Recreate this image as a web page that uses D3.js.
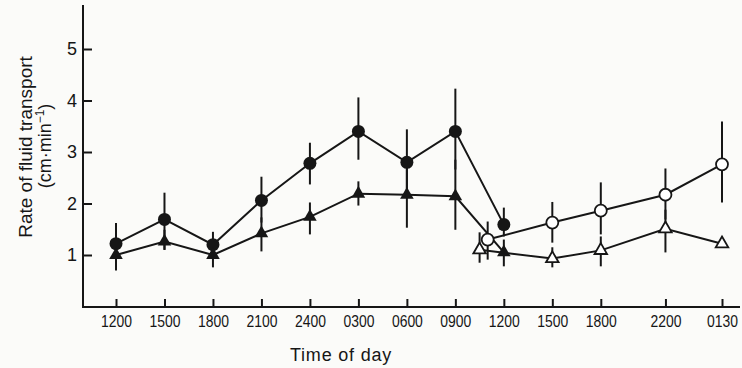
<!DOCTYPE html>
<html>
<head>
<meta charset="utf-8">
<script src="https://cdn.jsdelivr.net/npm/d3@7"></script>
<style>
  html, body { margin: 0; padding: 0; background: #fbfbf9; }
  svg { display: block; font-family: "Liberation Sans", Arial, sans-serif; }
</style>
</head>
<body>
<svg id="chart" width="742" height="368"></svg>
<script>
// elapsed hours from the first 1200 reading, and their clock labels
var tickHours = [0, 3, 6, 9, 12, 15, 18, 21, 24, 27, 30, 34, 37.5];
var tickLabels = ["1200", "1500", "1800", "2100", "2400", "0300", "0600", "0900", "1200", "1500", "1800", "2200", "0130"];
var yTicks = [1, 2, 3, 4, 5];

// filled circles
var timeA = [0, 3, 6, 9, 12, 15, 18, 21, 24];
var meanA = [1.22, 1.69, 1.2, 2.06, 2.78, 3.40, 2.80, 3.40, 1.59];
var hiA   = [1.62, 2.21, 1.45, 2.52, 3.18, 4.06, 3.44, 4.23, 1.92];
var loA   = [0.80, 1.10, 1.00, 1.63, 2.37, 2.85, 2.12, 2.66, 1.36];

// filled triangles
var timeB = [0, 3, 6, 9, 12, 15, 18, 21, 24];
var meanB = [1.0, 1.26, 1.0, 1.42, 1.74, 2.19, 2.17, 2.14, 1.05];
var hiB   = [1.25, 1.49, 1.2, 1.73, 2.02, 2.43, 2.82, 2.85, 1.30];
var loB   = [0.70, 1.10, 0.76, 1.07, 1.40, 1.96, 1.53, 1.49, 0.78];

// open circles
var timeC = [23, 27, 30, 34, 37.5];
var meanC = [1.30, 1.63, 1.86, 2.17, 2.76];
var hiC   = [1.65, 2.03, 2.41, 2.68, 3.59];
var loC   = [0.91, 1.24, 1.40, 1.69, 2.02];

// open triangles
var timeD = [22.5, 27, 30, 34, 37.5];
var meanD = [1.10, 0.93, 1.09, 1.51, 1.22];
var hiD   = [1.44, 1.15, 1.36, 1.88, null];
var loD   = [0.85, 0.76, 0.78, 1.05, null];

var ink = "#161616";
var svg = d3.select("#chart");

var x = d3.scaleLinear().domain([0, 37.5]).range([116, 722]);
var y = d3.scaleLinear().domain([0, 5]).range([306.5, 49]);

function pts(t, m, hi, lo) {
  return t.map(function(d, i) { return {t: d, v: m[i], hi: hi[i], lo: lo[i]}; });
}
var A = pts(timeA, meanA, hiA, loA);
var B = pts(timeB, meanB, hiB, loB);
var C = pts(timeC, meanC, hiC, loC);
var D = pts(timeD, meanD, hiD, loD);

// axes frame
svg.append("line").attr("x1", 83).attr("x2", 83).attr("y1", 5).attr("y2", 307.5)
  .attr("stroke", ink).attr("stroke-width", 2);
svg.append("line").attr("x1", 82).attr("x2", 740).attr("y1", 307).attr("y2", 307)
  .attr("stroke", ink).attr("stroke-width", 2);

var yAxis = svg.append("g").attr("transform", "translate(83,0)")
  .call(d3.axisLeft(y).tickValues(yTicks).tickSize(-9).tickPadding(6).tickFormat(d3.format("d")));
yAxis.select(".domain").remove();
yAxis.selectAll("line").attr("stroke", ink).attr("stroke-width", 2);
yAxis.selectAll("text").attr("font-size", 18).attr("fill", ink)
  .attr("font-family", "Liberation Sans, Arial, sans-serif");

var xAxis = svg.append("g").attr("transform", "translate(0,307)")
  .call(d3.axisBottom(x).tickValues(tickHours).tickSize(-8).tickPadding(8)
    .tickFormat(function(d, i) { return tickLabels[i]; }));
xAxis.select(".domain").remove();
xAxis.selectAll("line").attr("stroke", ink).attr("stroke-width", 2);
xAxis.selectAll("text").attr("font-size", 17).attr("fill", ink)
  .attr("font-family", "Liberation Sans, Arial, sans-serif")
  .attr("textLength", 31).attr("lengthAdjust", "spacingAndGlyphs");

// axis titles
svg.append("text").attr("x", 341).attr("y", 361).attr("text-anchor", "middle")
  .attr("font-size", 18).attr("fill", ink).attr("letter-spacing", 0.8).text("Time of day");

svg.append("text").attr("transform", "translate(32,147) rotate(-90)")
  .attr("text-anchor", "middle").attr("font-size", 19).attr("fill", ink)
  .text("Rate of fluid transport");
var unit = svg.append("text").attr("transform", "translate(51,146) rotate(-90)")
  .attr("text-anchor", "middle").attr("font-size", 18).attr("fill", ink);
unit.append("tspan").text("(cm\u00b7min");
unit.append("tspan").attr("font-size", 12).attr("dy", -7).text("\u22121");
unit.append("tspan").attr("dy", 7).text(")");

// lines
var line = d3.line().x(function(d) { return x(d.t); }).y(function(d) { return y(d.v); });
[A, B, C, D].forEach(function(s) {
  svg.append("path").datum(s).attr("d", line)
    .attr("fill", "none").attr("stroke", ink).attr("stroke-width", 2);
});

// error bars
[A, B, C, D].forEach(function(s) {
  svg.append("g").selectAll("line").data(s.filter(function(d) { return d.hi != null; }))
    .enter().append("line")
    .attr("x1", function(d) { return x(d.t); })
    .attr("x2", function(d) { return x(d.t); })
    .attr("y1", function(d) { return y(d.hi); })
    .attr("y2", function(d) { return y(d.lo); })
    .attr("stroke", ink).attr("stroke-width", 2);
});

// markers
var tri = d3.symbol().type(d3.symbolTriangle);

svg.append("g").selectAll("path").data(D).enter().append("path")
  .attr("d", tri.size(68))
  .attr("transform", function(d) { return "translate(" + x(d.t) + "," + y(d.v) + ")"; })
  .attr("fill", "#fff").attr("stroke", ink).attr("stroke-width", 1.8);

svg.append("g").selectAll("circle").data(C).enter().append("circle")
  .attr("cx", function(d) { return x(d.t); })
  .attr("cy", function(d) { return y(d.v); })
  .attr("r", 6).attr("fill", "#fff").attr("stroke", ink).attr("stroke-width", 1.8);

svg.append("g").selectAll("circle").data(A).enter().append("circle")
  .attr("cx", function(d) { return x(d.t); })
  .attr("cy", function(d) { return y(d.v); })
  .attr("r", 6.5).attr("fill", ink);

svg.append("g").selectAll("path").data(B).enter().append("path")
  .attr("d", tri.size(80))
  .attr("transform", function(d) { return "translate(" + x(d.t) + "," + y(d.v) + ")"; })
  .attr("fill", ink);
</script>
</body>
</html>
